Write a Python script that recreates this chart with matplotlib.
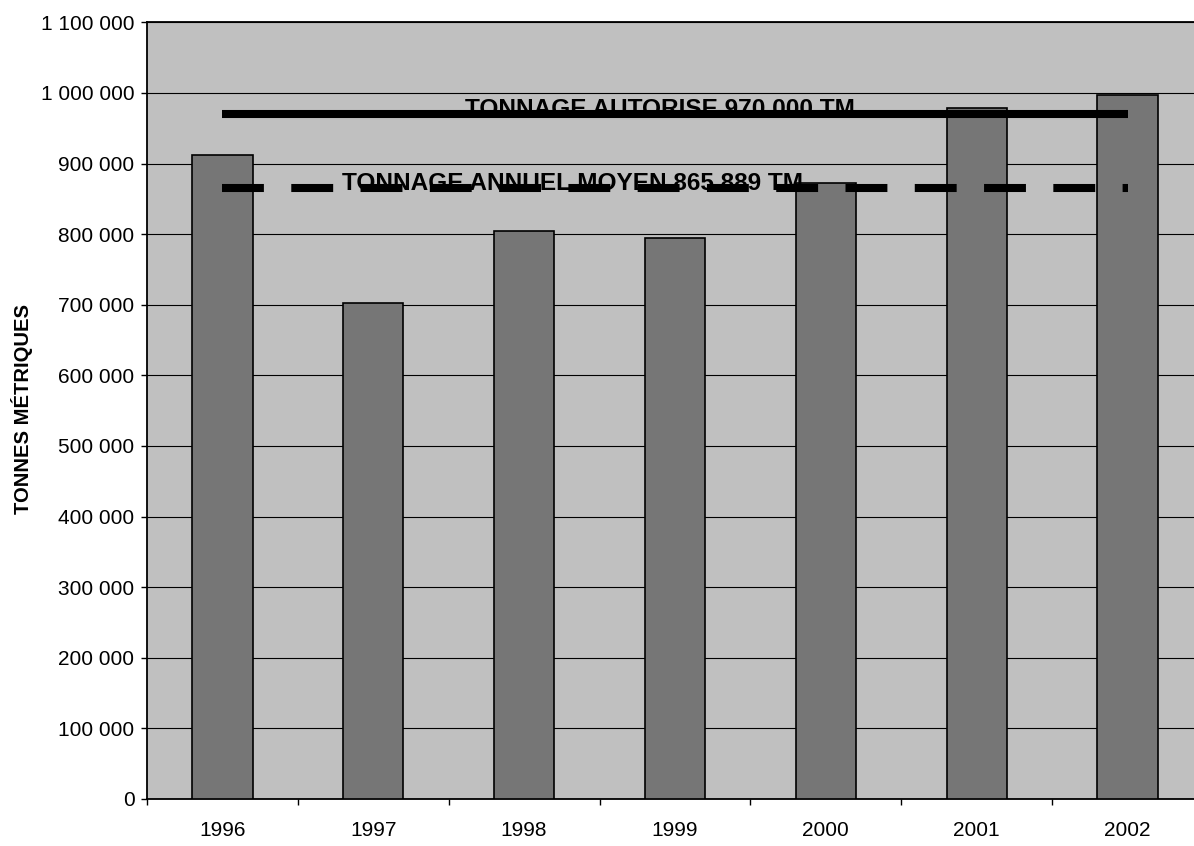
import matplotlib
matplotlib.use("Agg")
import matplotlib.pyplot as plt
from matplotlib.ticker import FuncFormatter, MultipleLocator

years = ["1996", "1997", "1998", "1999", "2000", "2001", "2002"]
tonnage = [912000, 702000, 804000, 794000, 873000, 979000, 997000]
authorised = 970000
mean_tonnage = 865889
authorised_label = "TONNAGE AUTORISE 970 000 TM"
mean_label = "TONNAGE ANNUEL MOYEN 865 889 TM"

plt.rcParams["font.family"] = ["Liberation Sans", "DejaVu Sans"]

fig = plt.figure(figsize=(11.94, 8.46), dpi=100)
ax = fig.add_axes([0.1231, 0.0556, 0.8844, 0.918])
ax.set_facecolor("#c0c0c0")

x = list(range(len(years)))
ax.bar(x, tonnage, width=0.4, color="#767676", edgecolor="black", linewidth=1.2, zorder=3)

ax.plot([0, 6], [authorised, authorised], color="black", linewidth=5.8, solid_capstyle="butt", zorder=4)
ax.plot([0, 6], [mean_tonnage, mean_tonnage], color="black", linewidth=5.8,
        dashes=(5.2, 3.4), dash_capstyle="butt", zorder=4)

ax.text(1.61, authorised - 2000, authorised_label, fontsize=17.6, fontweight="bold",
        ha="left", va="baseline", zorder=5)
ax.text(0.79, mean_tonnage - 3000, mean_label, fontsize=17.6, fontweight="bold",
        ha="left", va="baseline", zorder=5)

ax.set_xlim(-0.5, 6.5)
ax.set_ylim(0, 1100000)
ax.yaxis.set_major_locator(MultipleLocator(100000))
ax.yaxis.set_major_formatter(FuncFormatter(lambda v, p: f"{int(v):,}".replace(",", " ")))
ax.grid(axis="y", color="black", linewidth=0.8, zorder=1)

ax.set_xticks(x)
ax.set_xticklabels(years)
ax.set_xticks([i - 0.5 for i in range(len(years) + 1)], minor=True)
ax.tick_params(axis="x", which="major", length=0, pad=16, labelsize=15)
ax.tick_params(axis="x", which="minor", length=4, width=1, direction="out")
ax.tick_params(axis="y", length=4, width=1, pad=5, labelsize=15)

for side in ["left", "bottom", "top"]:
    ax.spines[side].set_linewidth(1.3)
ax.spines["right"].set_visible(False)

fig.text(22 / 1194, 0.5166, "TONNES MÉTRIQUES", rotation=90, fontsize=14.6,
         fontweight="bold", ha="center", va="center")

plt.savefig("out.png", dpi=100)
